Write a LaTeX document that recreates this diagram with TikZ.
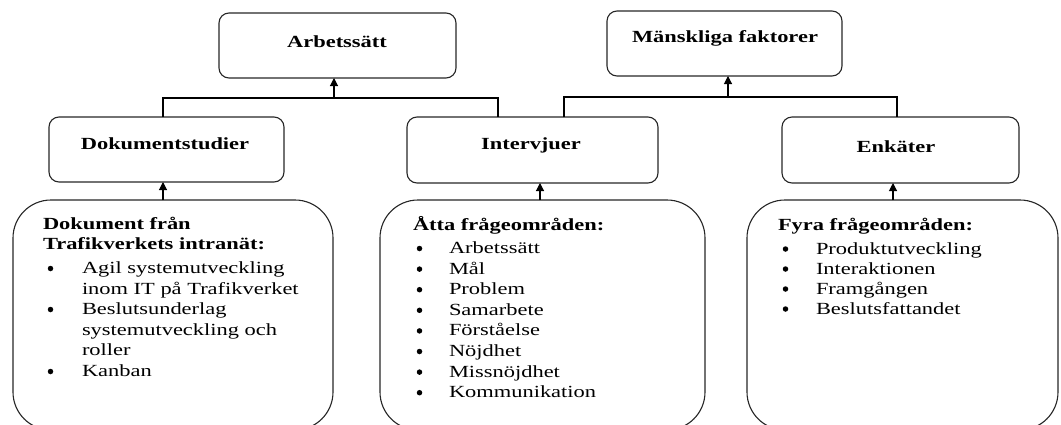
\documentclass[tikz,border=0pt]{standalone}
\usepackage{fontspec}
\setmainfont{Liberation Serif}[FakeStretch=1.32]
\usetikzlibrary{arrows.meta}
\begin{document}
\begin{tikzpicture}[x=1pt,y=-1pt,
  every node/.style={inner sep=0pt, outer sep=0pt, font=\fontsize{17}{20.5}\selectfont},
  conn/.style={line width=1.1pt, draw=black},
  arr/.style={conn, -{Triangle[width=8pt,length=8pt]}},
  topbox/.style={draw=black!85, line width=1.1pt, rounded corners=10pt, anchor=north west},
  srcbox/.style={draw=black!85, line width=1.1pt, rounded corners=38pt, anchor=north west},
  title/.style={font=\fontsize{17}{20.5}\selectfont\bfseries},
  hd/.style={anchor=base west, font=\fontsize{17}{20.5}\selectfont\bfseries},
  itm/.style={anchor=base west},
  bul/.style={circle, fill=black, minimum size=5.5pt, xshift=4.5pt, yshift=5pt}
]
\useasboundingbox (0,0) rectangle (1061,424);

% category boxes
\node[topbox, minimum width=237pt, minimum height=65pt] (arb) at (219,13) {};
\node[topbox, minimum width=235pt, minimum height=65pt] (man) at (607,11) {};
\node[title] (arbT) at (337,42) {Arbetssätt};
\node[title] (manT) at (725,38) {Mänskliga faktorer};

% method boxes
\node[topbox, minimum width=235pt, minimum height=65pt] (dok) at (49,117) {};
\node[topbox, minimum width=251pt, minimum height=66pt] (int) at (407,117) {};
\node[topbox, minimum width=237pt, minimum height=66pt] (enk) at (782,117) {};
\node[title] (dokT) at (165,144) {Dokumentstudier};
\node[title] (intT) at (531,145) {Intervjuer};
\node[title] (enkT) at (896,147) {Enkäter};

% source boxes
\node[srcbox, minimum width=320pt, minimum height=230pt] (dsrc) at (13,200) {};
\node[srcbox, minimum width=325pt, minimum height=230pt] (isrc) at (380,200) {};
\node[srcbox, minimum width=311pt, minimum height=230pt] (esrc) at (747,200) {};

% documents
\node[hd] (d1) at (43,229) {Dokument från};
\node[hd] (d2) at (43,249.5) {Trafikverkets intranät:};
\node[bul] (db1) at (46,273.5) {};
\node[itm] (d3) at (82,273.5) {Agil systemutveckling};
\node[itm] (d4) at (82,294) {inom IT på Trafikverket};
\node[bul] (db2) at (46,314.5) {};
\node[itm] (d5) at (82,314.5) {Beslutsunderlag};
\node[itm] (d6) at (82,335) {systemutveckling och};
\node[itm] (d7) at (82,355.5) {roller};
\node[bul] (db3) at (46,376.5) {};
\node[itm] (d8) at (82,376.5) {Kanban};

% interview areas
\node[hd] (i0) at (413,230.5) {Åtta frågeområden:};
\foreach \txt [count=\k] in {Arbetssätt, Mål, Problem, Samarbete, Förståelse, Nöjdhet, Missnöjdhet, Kommunikation}{
  \node[bul] (ib\k) at (415,{253.5+20.6*(\k-1)}) {};
  \node[itm] (i\k) at (449,{253.5+20.6*(\k-1)}) {\txt};
}

% survey areas
\node[hd] (e0) at (778,230.5) {Fyra frågeområden:};
\foreach \txt [count=\k] in {Produktutveckling, Interaktionen, Framgången, Beslutsfattandet}{
  \node[bul] (eb\k) at (781,{254+20*(\k-1)}) {};
  \node[itm] (e\k) at (816,{254+20*(\k-1)}) {\txt};
}

% junctions and tree connectors
\coordinate (ja) at (334,98);
\coordinate (jm) at (728,97);
\draw[conn] ([xshift=-3.5pt]dok.north) |- (ja) -| ([xshift=-34.5pt]int.north);
\draw[arr] (ja) -- (ja |- arb.south);
\draw[conn] ([xshift=31.5pt]int.north) |- (jm) -| ([xshift=-3.5pt]enk.north);
\draw[arr] (jm) -- (jm |- man.south);

% source to method arrows
\coordinate (dx) at (163,0);
\coordinate (ix) at (540,0);
\coordinate (ex) at (893,0);
\draw[arr] (dsrc.north -| dx) -- (dok.south -| dx);
\draw[arr] (isrc.north -| ix) -- (int.south -| ix);
\draw[arr] (esrc.north -| ex) -- (enk.south -| ex);
\end{tikzpicture}
\end{document}
